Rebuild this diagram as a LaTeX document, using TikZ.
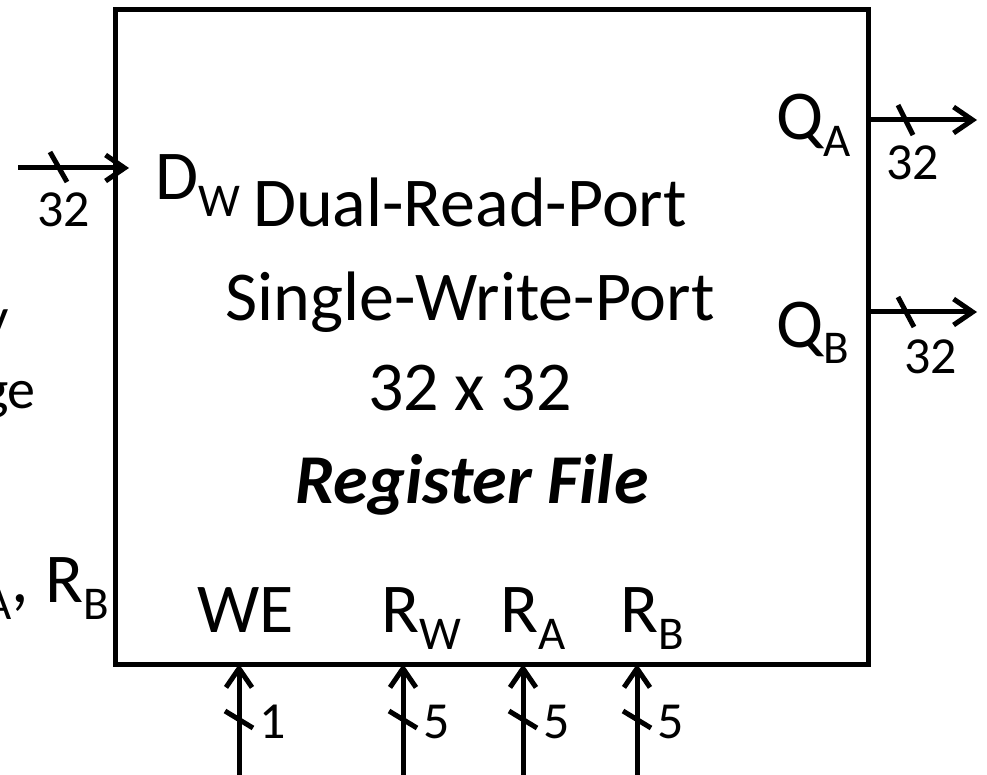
\documentclass[tikz,border=0pt]{standalone}
\usepackage{fontspec}
\setmainfont{Carlito}
\usetikzlibrary{arrows.meta}
\newcommand{\lowsub}[1]{\raisebox{-17pt}{\fontsize{47}{47}\selectfont #1}}
\tikzset{
  bus/.style={line width=5pt,-{Straight Barb[length=19pt,width=26pt]}},
  busmark/.style={line width=5pt},
  big/.style={font=\fontsize{70}{84}\selectfont,inner sep=0pt},
  small/.style={font=\fontsize{52}{60}\selectfont,inner sep=0pt},
  side/.style={font=\fontsize{56}{66}\selectfont,inner sep=0pt,anchor=base east},
}
\begin{document}
\begin{tikzpicture}[x=1pt,y=-1pt]
\clip (0,0) rectangle (987,775);
\node[draw,line width=5pt,minimum width=753pt,minimum height=654pt,inner sep=0pt,outer sep=0pt] (rf) at (491.5,337) {};
% title lines
\foreach \Y/\T/\N in {227/Dual-Read-Port/t1,320/Single-Write-Port/t2,410/32 x 32/t3}{
\node[big,anchor=base] (\N) at (470,\Y) {\T};}
\node[big,anchor=base] (t4) at (472,503) {\textbf{\textit{Register File}}};
% port names
\node[big,anchor=base west] (dw) at (155,200) {D\lowsub{W}};
\node[big,anchor=base west] (qa) at (776,140) {Q\lowsub{A}};
\node[big,anchor=base west] (qb) at (776,347) {Q\lowsub{B}};
\node[big,anchor=base west] (we) at (197,632) {WE};
\node[big,anchor=base west] (rw) at (381,632) {R\lowsub{W}};
\node[big,anchor=base west] (ra) at (500,632) {R\lowsub{A}};
\node[big,anchor=base west] (rb) at (620,632) {R\lowsub{B}};
% text cut at the left edge
\node[side] (cutA) at (9,336) {y};
\node[side] (cutB) at (36,408) {ge};
\node[big,anchor=base east] (cutC) at (109,602) {\lowsub{A}, R\lowsub{B}};
% write data in
\coordinate (dwIn) at (18,168);
\draw[bus] (dwIn) -- ([xshift=14pt]dwIn -| rf.west);
\draw[busmark] (50,152) -- (67,182);
\node[small,anchor=base west] (dwW) at (37,227) {32};
% read data out
\coordinate (qaOut) at (977,120);
\coordinate (qbOut) at (977,312);
\draw[bus] (rf.east |- qaOut) -- (qaOut);
\draw[bus] (rf.east |- qbOut) -- (qbOut);
\draw[busmark] (898,105) -- (913,135);
\draw[busmark] (898,297) -- (914,327);
\node[small,anchor=base west] (qaW) at (886,180) {32};
\node[small,anchor=base west] (qbW) at (904,373) {32};
% control and address in
\foreach \X/\N/\B in {239/we/1,403/rw/5,523/ra/5,637/rb/5}{
\coordinate (in\N) at (\X,775);
\draw[bus] (in\N) -- (in\N |- rf.south);
\draw[busmark] (\X-14,711) -- (\X+14,728);
\node[small,anchor=base west] (w\N) at (\X+20,738) {\B};}
\end{tikzpicture}
\end{document}
